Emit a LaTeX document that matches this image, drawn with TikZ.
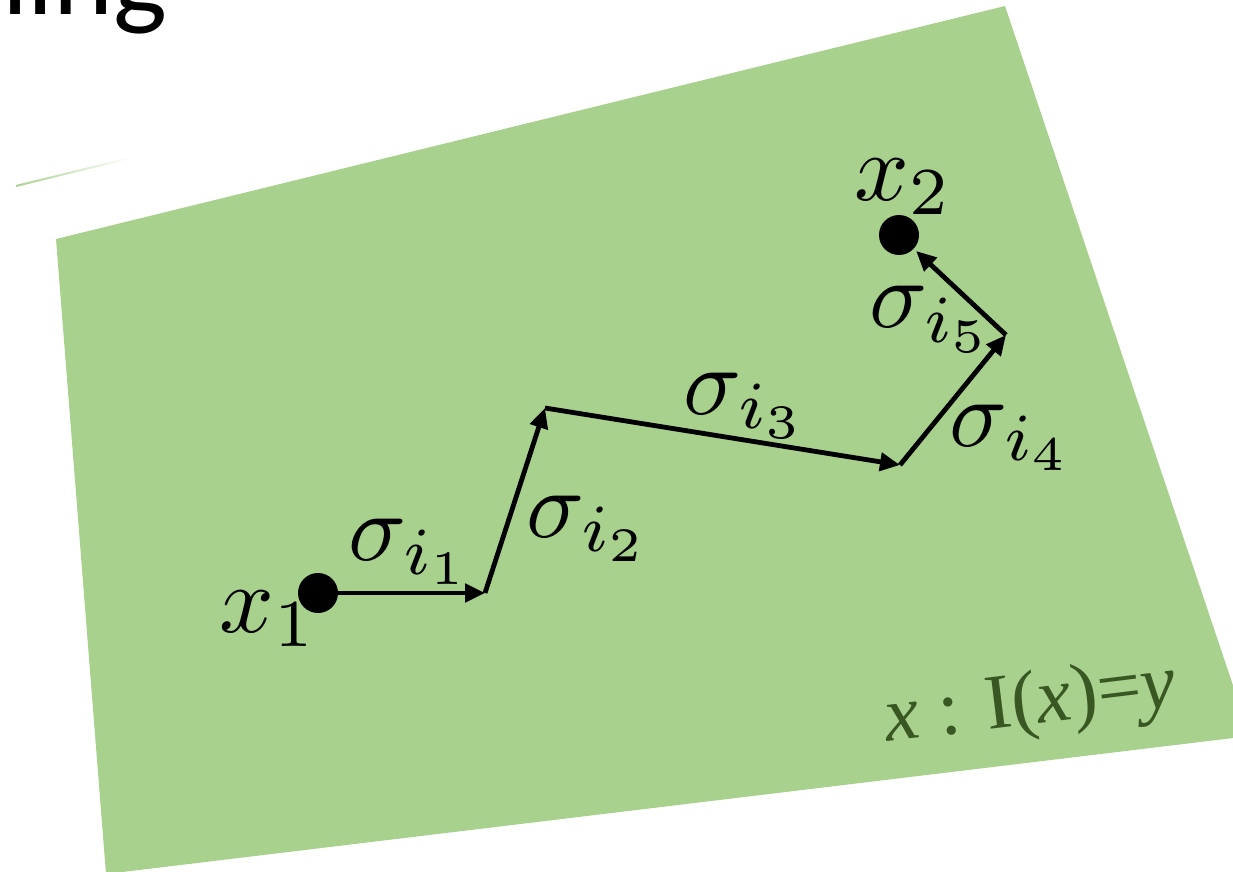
\documentclass[tikz,border=0pt]{standalone}
\usepackage{graphicx}
\usepackage{fontspec}
\newfontfamily\slidefont{Carlito}
\newfontfamily\timesfont{Liberation Serif}
\newfontfamily\timesital{Liberation Serif Italic}
\usetikzlibrary{arrows.meta,fadings}
\definecolor{setgreen}{RGB}{169,209,142}
\definecolor{darkgreen}{RGB}{56,87,35}

\begin{document}
\begin{tikzpicture}[x=0.5pt,y=-0.5pt,
  hop/.style={line width=2.4pt,-{Triangle[length=10pt,width=9pt]}},
  blob/.style={circle,fill=black,inner sep=0pt,minimum size=20pt},
  lbl/.style={inner sep=0pt,anchor=base west,font=\fontsize{10}{12}\selectfont}]
  \path[use as bounding box] (0,0) rectangle (1233,872);
  \clip (0,0) rectangle (1233,872);
  % slide title, cut off at the top
  \node[anchor=base east,inner sep=0pt,font=\slidefont\fontsize{57}{68}\selectfont] (title) at (168,15) {ning};
  \draw[setgreen,line width=1pt,path fading=east] (16,186) -- (130,158);
  % the set of x with I(x)=y
  \fill[setgreen] (56,239) -- (1005,6) -- (1250,736) -- (106,874) -- cycle;
  \node[anchor=base west,inner sep=0pt,rotate=7,text=darkgreen,font=\timesfont\fontsize{39}{47}\selectfont] (set) at (887,742) {{\timesital x} : I({\timesital x})={\timesital y}};
  % path from x1 to x2
  \coordinate (c1) at (485,593);
  \coordinate (c2) at (545,408);
  \coordinate (c3) at (900,465);
  \coordinate (c4) at (1006,335);
  \node[blob] (x1) at (318,593) {};
  \node[blob] (x2) at (899,235) {};
  \draw[hop] (x1) -- (c1);
  \draw[hop] (c1) -- (c2);
  \draw[hop] (c2) -- (c3);
  \draw[hop] (c3) -- (c4);
  \draw[hop,shorten >=1.5pt] (c4) -- (x2);
  % labels
  \node[lbl] (l1) at (219,632) {\scalebox{4.8}{$x_1$}};
  \node[lbl] (l2) at (854,200) {\scalebox{4.8}{$x_2$}};
  \node[lbl] (s1) at (348,560) {\scalebox{4.8}{$\sigma_{i_1}$}};
  \node[lbl] (s2) at (526,537) {\scalebox{4.8}{$\sigma_{i_2}$}};
  \node[lbl] (s3) at (683,414) {\scalebox{4.8}{$\sigma_{i_3}$}};
  \node[lbl] (s4) at (949,446) {\scalebox{4.8}{$\sigma_{i_4}$}};
  \node[lbl] (s5) at (869,328) {\scalebox{4.8}{$\sigma_{i_5}$}};
\end{tikzpicture}
\end{document}
